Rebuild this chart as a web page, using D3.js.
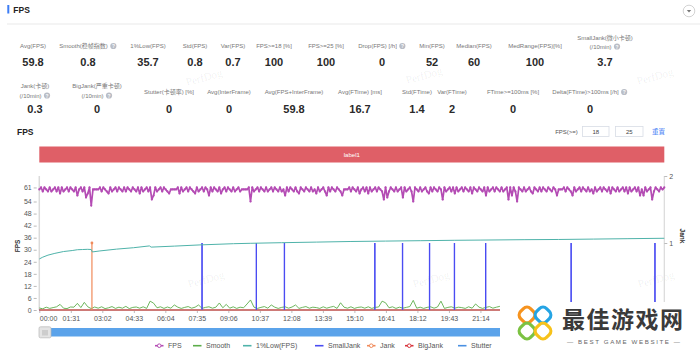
<!DOCTYPE html>
<html>
<head>
<meta charset="utf-8">
<script src="https://cdn.jsdelivr.net/npm/d3@7"></script>
<style>
  body { margin: 0; background: #fff; }
  svg text { font-family: "Liberation Sans", Arial, "Noto Sans CJK SC", sans-serif; }
</style>
</head>
<body>
<div id="wrapper"></div>
<script>
// ---- data ----
const statLabelsTop = ["Avg(FPS)", "Smooth(稳帧指数)", "1%Low(FPS)", "Std(FPS)", "Var(FPS)", "FPS>=18 [%]", "FPS>=25 [%]",
  "Drop(FPS) [/h]", "Min(FPS)", "Median(FPS)", "MedRange(FPS)[%]", "SmallJank(微小卡顿)|(/10min)"];
const statValuesTop = ["59.8", "0.8", "35.7", "0.8", "0.7", "100", "100", "0", "52", "60", "100", "3.7"];
const statHelpTop = [false, true, false, false, false, false, false, true, false, false, false, true];

const statLabelsBottom = ["Jank(卡顿)|(/10min)", "BigJank(严重卡顿)|(/10min)", "Stutter(卡顿率) [%]", "Avg(InterFrame)",
  "Avg(FPS+InterFrame)", "Avg(FTime) [ms]", "Std(FTime)", "Var(FTime)", "FTime>=100ms [%]", "Delta(FTime)>100ms [/h]"];
const statValuesBottom = ["0.3", "0", "0", "0", "59.8", "16.7", "1.4", "2", "0", "0"];
const statHelpBottom = [true, true, false, false, false, false, false, false, false, true];

const FPS_STEP = 5; // seconds between FPS samples
const fpsValues = [
  60,61,59,61,60,59,61,59,60,61,59,61,58,61,59,60,61,59,61,60,
  59,61,57,60,61,59,61,56,58,61,52,60,60,60,60,61,59,61,60,59,
  58,61,59,60,61,59,61,60,59,61,59,61,60,59,61,60,59,61,58,61,
  59,60,61,59,61,55,57,61,59,60,61,59,61,60,59,58,60,60,60,60,
  61,58,61,59,60,61,59,61,60,59,58,61,59,60,61,59,61,60,57,61,
  59,61,60,59,61,58,60,61,59,61,60,59,61,59,60,61,59,60,60,60,
  60,61,54,61,59,60,61,59,61,60,59,61,59,60,61,59,61,60,59,61,
  59,60,57,61,59,61,60,59,61,59,58,61,60,59,61,60,59,61,59,60,
  58,61,59,60,61,59,57,61,59,61,60,59,61,60,59,57,60,60,60,61,
  59,61,60,59,61,58,60,61,59,61,58,61,59,60,61,59,61,60,59,55,
  61,56,59,61,60,59,61,59,60,61,56,61,59,60,61,59,54,61,60,59,
  61,59,60,61,59,58,61,59,61,60,59,61,60,55,61,59,60,61,59,61,
  58,61,59,60,61,59,61,60,59,61,58,61,60,59,61,60,59,61,57,61,
  59,60,61,59,61,60,59,61,59,60,61,55,61,57,61,59,54,61,60,59,
  61,59,60,61,59,58,61,60,59,61,59,61,60,59,61,60,59,61,60,57,
  60,60,60,61,59,61,60,59,57,61,59,60,61,59,61,60,59,61,59,60,
  58,61,59,60,61,59,61,60,59,61,58,61,60,59,61,59,60,61,59,61,
  58,61,59,60,61,59,61,57,60,57,61,59,60,61,55,59,61,60,59,61,
  60,61
];

const SMOOTH_STEP = 10; // seconds between Smooth samples
const smoothValues = [
  1,0.6,1.4,0.8,1.2,1.6,2.8,0.9,0.7,1.5,1.4,3.3,1.2,3.8,1.6,0.7,1.5,0.9,1.6,0.7,
  1.1,1.7,0.8,1.4,0.9,1.8,0.7,1.3,1.5,0.9,1.6,0.8,4.4,3.4,1.1,1.6,0.8,1.5,0.9,2.5,
  1.4,0.8,1.3,1.7,0.9,1.4,2.5,0.8,1.3,1.6,0.9,1.4,3.5,1.1,2.8,0.9,1.6,0.8,1.4,1.1,
  3,5,1.4,0.8,1.3,1.7,0.9,2.5,1.4,0.8,1.3,1.6,0.9,1.5,2.5,0.8,1.3,1.7,0.9,1.4,
  1.2,0.8,1.6,0.9,1.4,1.8,0.8,3.6,1.4,0.9,1.6,0.8,1.3,1.5,0.9,1.6,0.8,1.3,1.5,4.4,
  3.6,1.1,1.6,0.8,1.4,0.9,1.3,1.7,4.8,0.9,1.4,0.8,1.3,1.6,0.9,1.5,4.4,0.8,1.3,1.6,
  0.9,1.4,1.2,0.8,1.6,0.9,3,1.4,0.8,1.3,1.7,0.9,1.4,1.8,0.9,1.2,1.8,1.5,0.8,1.4,
  0.9,1.3,1.6,0.8,1.4,0.9,2.6,1.2,1.6,0.8,1.4,0.9,1.3,3.2,0.8,1.4,0.9,1.6,1.2,0.8,
  1.4,0.9,1.6,1.2,0.8,1.4,0.9,2.8,1.2,1.6,0.8,1.4,0.9,1.3,3.5,0.8,1.4,0.9,1.6,1.2,1
];

const lowTimes = [0, 10, 25, 45, 70, 95, 110, 125, 140, 150, 153, 175, 223, 272, 318, 323, 390, 464, 561, 609,
  700, 800, 900, 1000, 1100, 1200, 1273, 1400, 1500, 1600, 1700, 1805];
const lowValues = [25.4, 26.3, 27.3, 28.2, 29.1, 29.6, 30.0, 30.1, 30.2, 30.1, 28.9, 29.4, 30.3, 31.0, 31.9, 31.3, 31.8, 32.4, 33.0, 33.2,
  33.5, 33.8, 34.1, 34.3, 34.5, 34.7, 34.8, 35.0, 35.1, 35.3, 35.5, 35.7];

const smallJankTimes = [470, 627, 708, 969, 1049, 1127, 1199, 1289, 1536, 1778];
const jankTimes = [152];
const bigJankTimes = [];
const stutterTimes = [];

const DURATION = 1805;
// labels to the right of 21:14 (and the right-hand 0) are covered by the site logo in the picture
const xTickLabels = ["00:00", "01:31", "03:02", "04:33", "06:04", "07:35", "09:06", "10:37", "12:08", "13:39",
  "15:10", "16:41", "18:12", "19:43", "21:14"];
const yLeftTicks = [0, 6, 12, 18, 24, 30, 36, 42, 48, 54, 61];
const yRightTicks = [1, 2];

const legendNames = ["FPS", "Smooth", "1%Low(FPS)", "SmallJank", "Jank", "BigJank", "Stutter"];
const legendColors = ["#b44cb4", "#5cad4a", "#4fb3aa", "#4a4cf2", "#f08a5a", "#d8343c", "#4a90e2"];
const legendMarker = [true, false, false, false, true, true, false];

// ---- layout ----
const width = 700, height = 352;
const plot = { left: 39.3, right: 664.3, top: 176, bottom: 310 };
const colTop = [33, 88, 148, 195, 233, 274, 326, 382, 432, 474, 535, 605];
const colBottom = [35, 97, 169, 229, 294, 360, 417, 452, 513, 590];
const legendX = [155, 193, 243, 315, 367, 405, 458];

const svg = d3.select("#wrapper").append("svg")
  .attr("width", width)
  .attr("height", height);

// header
svg.append("rect").attr("x", 7.3).attr("y", 5).attr("width", 2).attr("height", 8.5).attr("fill", "#3d7df5");
svg.append("text").attr("x", 13.3).attr("y", 13).attr("font-size", 8.5).attr("font-weight", "bold")
  .attr("fill", "#222").text("FPS");
svg.append("line").attr("x1", 7).attr("x2", 700).attr("y1", 24).attr("y2", 24)
  .attr("stroke", "#f0f0f0").attr("stroke-width", 1.5);
svg.append("circle").attr("cx", 689).attr("cy", 11).attr("r", 5.8)
  .attr("fill", "#fff").attr("stroke", "#c8c8c8").attr("stroke-width", 0.8);
svg.append("path").attr("d", "M686.8,10 L691.2,10 L689,12.5 Z").attr("fill", "#777");

// stats blocks
function drawStat(labels, values, help, cols, lineYs, singleY, valueY) {
  labels.forEach((lab, i) => {
    const cx = cols[i];
    const lines = lab.split("|");
    const ys = lines.length === 2 ? lineYs : [singleY];
    lines.forEach((ln, j) => {
      const last = j === lines.length - 1;
      const t = svg.append("text").attr("y", ys[j]).attr("font-size", 6).attr("fill", "#777").text(ln);
      const w = t.node().getComputedTextLength();
      const extra = (last && help[i]) ? 9 : 0;
      const x0 = cx - (w + extra) / 2;
      t.attr("x", x0);
      if (extra) {
        svg.append("circle").attr("cx", x0 + w + 5.5).attr("cy", ys[j] - 2).attr("r", 3.1).attr("fill", "#b9bdc6");
        svg.append("text").attr("x", x0 + w + 5.5).attr("y", ys[j]).attr("text-anchor", "middle")
          .attr("font-size", 4.8).attr("font-weight", "bold").attr("fill", "#fff").text("?");
      }
    });
    svg.append("text").attr("x", cx).attr("y", valueY).attr("text-anchor", "middle")
      .attr("font-size", 11).attr("font-weight", "bold").attr("fill", "#2a2a2a").text(values[i]);
  });
}
drawStat(statLabelsTop, statValuesTop, statHelpTop, colTop, [39.5, 48.5], 48, 66);
drawStat(statLabelsBottom, statValuesBottom, statHelpBottom, colBottom, [88, 97.5], 94, 113);

// faint watermarks
[[205, 81], [425, 79], [656, 80], [207, 283], [432, 283], [657, 283]].forEach(([x, y]) => {
  svg.append("text").attr("transform", `translate(${x},${y}) rotate(-15)`)
    .attr("text-anchor", "middle").attr("font-size", 11)
    .style("font-family", "'Liberation Serif', 'DejaVu Serif', serif")
    .attr("fill", "rgba(0,0,0,0.07)").text("PerfDog");
});

// chart title and threshold inputs
svg.append("text").attr("x", 17).attr("y", 135).attr("font-size", 8.5).attr("font-weight", "bold")
  .attr("fill", "#222").text("FPS");
svg.append("text").attr("x", 566.5).attr("y", 133.5).attr("text-anchor", "middle")
  .attr("font-size", 6).attr("fill", "#555").text("FPS(>=)");
[["18", 582.5, 26.5], ["25", 615.5, 27.5]].forEach(([v, x, w]) => {
  svg.append("rect").attr("x", x).attr("y", 126.5).attr("width", w).attr("height", 10)
    .attr("fill", "#fff").attr("stroke", "#d8dce5").attr("stroke-width", 0.8);
  svg.append("text").attr("x", x + w / 2).attr("y", 133.7).attr("text-anchor", "middle")
    .attr("font-size", 6).attr("fill", "#444").text(v);
});
svg.append("text").attr("x", 658.5).attr("y", 134).attr("text-anchor", "middle")
  .attr("font-size", 6.5).attr("fill", "#4a7ff5").text("重置");

// label bar
svg.append("rect").attr("x", plot.left).attr("y", 146.5).attr("width", plot.right - plot.left).attr("height", 16)
  .attr("fill", "#df5f67");
svg.append("text").attr("x", (plot.left + plot.right) / 2).attr("y", 156.7).attr("text-anchor", "middle")
  .attr("font-size", 6).attr("fill", "#fff").text("label1");

// scales
const xScale = d3.scaleLinear().domain([0, DURATION]).range([plot.left, plot.right]);
const yLeft = d3.scaleLinear().domain([0, 66.7]).range([plot.bottom, plot.top]);
const yRight = d3.scaleLinear().domain([0, 2]).range([plot.bottom, plot.top]);
const toSeconds = s => { const [m, sec] = s.split(":").map(Number); return m * 60 + sec; };

// axes
svg.append("line").attr("x1", plot.left).attr("x2", plot.left).attr("y1", plot.top).attr("y2", plot.bottom)
  .attr("stroke", "#dadada").attr("stroke-width", 1.5);
svg.append("line").attr("x1", plot.right).attr("x2", plot.right).attr("y1", plot.top).attr("y2", plot.bottom)
  .attr("stroke", "#dadada").attr("stroke-width", 1.2);
svg.append("line").attr("x1", plot.left).attr("x2", plot.right).attr("y1", plot.bottom).attr("y2", plot.bottom)
  .attr("stroke", "#cfcfcf").attr("stroke-width", 1);

function styleAxis(g, anchor) {
  g.select(".domain").remove();
  g.selectAll(".tick line").attr("stroke", "#bbb");
  g.selectAll(".tick text").attr("font-size", 7).attr("fill", "#555")
    .style("font-family", "'Liberation Sans', Arial, sans-serif");
  if (anchor) g.selectAll(".tick text").attr("text-anchor", anchor);
}

const yLeftAxis = svg.append("g").attr("transform", `translate(${plot.left - 2.6},0)`)
  .call(d3.axisLeft(yLeft).tickValues(yLeftTicks).tickSize(3).tickPadding(2));
styleAxis(yLeftAxis);

const yRightAxis = svg.append("g").attr("transform", `translate(${plot.right},0)`)
  .call(d3.axisRight(yRight).tickValues(yRightTicks).tickSize(3).tickPadding(2).tickFormat(d3.format("d")));
styleAxis(yRightAxis);

const xAxis = svg.append("g").attr("transform", `translate(0,${plot.bottom})`)
  .call(d3.axisBottom(xScale).tickValues(xTickLabels.map(toSeconds)).tickSize(3).tickPadding(3)
    .tickFormat((d, i) => xTickLabels[i]));
styleAxis(xAxis);
xAxis.selectAll(".tick").filter(d => d === 0).select("text").attr("text-anchor", "start");

svg.append("text").attr("transform", `translate(20,246) rotate(-90)`).attr("text-anchor", "middle")
  .attr("font-size", 6.5).attr("font-weight", "bold").attr("fill", "#333").text("FPS");
svg.append("text").attr("transform", `translate(680,236) rotate(90)`).attr("text-anchor", "middle")
  .attr("font-size", 6.5).attr("font-weight", "bold").attr("fill", "#333").text("Jank");

// series
const chart = svg.append("g");

// zero-level event series (drawn under everything else)
function drawEvents(times, color, marker) {
  chart.append("line").attr("x1", plot.left).attr("x2", plot.right)
    .attr("y1", yRight(0)).attr("y2", yRight(0)).attr("stroke", color).attr("stroke-width", 1.3);
  times.forEach(t => {
    chart.append("line").attr("x1", xScale(t)).attr("x2", xScale(t))
      .attr("y1", yRight(0)).attr("y2", yRight(1)).attr("stroke", color).attr("stroke-width", 1.2);
    if (marker) {
      chart.append("circle").attr("cx", xScale(t)).attr("cy", yRight(1)).attr("r", 1.4).attr("fill", color);
    }
  });
}
drawEvents(stutterTimes, legendColors[6], false);
drawEvents(bigJankTimes, legendColors[5], true);
drawEvents(smallJankTimes, legendColors[3], false);

const smoothLine = d3.line()
  .x((d, i) => xScale(i * SMOOTH_STEP))
  .y(d => yLeft(d));
chart.append("path").datum(smoothValues).attr("d", smoothLine)
  .attr("fill", "none").attr("stroke", legendColors[1]).attr("stroke-width", 0.9);

drawEvents(jankTimes, legendColors[4], true);
// keep the small jank spikes on top of the orange base line
smallJankTimes.forEach(t => {
  chart.append("line").attr("x1", xScale(t)).attr("x2", xScale(t))
    .attr("y1", yRight(0)).attr("y2", yRight(1)).attr("stroke", legendColors[3]).attr("stroke-width", 1.2);
});

const lowLine = d3.line()
  .x((d, i) => xScale(lowTimes[i]))
  .y(d => yLeft(d));
chart.append("path").datum(lowValues).attr("d", lowLine)
  .attr("fill", "none").attr("stroke", legendColors[2]).attr("stroke-width", 1);

const fpsLine = d3.line()
  .x((d, i) => xScale(i * FPS_STEP))
  .y(d => yLeft(d));
chart.append("path").datum(fpsValues).attr("d", fpsLine)
  .attr("fill", "none").attr("stroke", legendColors[0]).attr("stroke-width", 1.7)
  .attr("stroke-linejoin", "round");
chart.selectAll(".fps-dot").data(fpsValues).join("circle")
  .attr("class", "fps-dot")
  .attr("cx", (d, i) => xScale(i * FPS_STEP))
  .attr("cy", d => yLeft(d))
  .attr("r", 1.1)
  .attr("fill", legendColors[0]);

// slider (data zoom)
svg.append("rect").attr("x", plot.left + 1).attr("y", 328).attr("width", plot.right - plot.left - 1).attr("height", 8.5)
  .attr("fill", "#5ba3ea");
svg.append("rect").attr("x", 39).attr("y", 326.8).attr("width", 12).attr("height", 11).attr("rx", 1.5)
  .attr("fill", "#e4e4e4").attr("stroke", "#b8b8b8").attr("stroke-width", 0.7);
[43, 45, 47].forEach(x => {
  svg.append("line").attr("x1", x).attr("x2", x).attr("y1", 330).attr("y2", 335.5)
    .attr("stroke", "#999").attr("stroke-width", 0.6);
});

// legend
const legend = svg.append("g");
legendNames.forEach((name, i) => {
  const x = legendX[i], y = 345.7;
  legend.append("line").attr("x1", x).attr("x2", x + 8.5).attr("y1", y).attr("y2", y)
    .attr("stroke", legendColors[i]).attr("stroke-width", 1.6);
  if (legendMarker[i]) {
    legend.append("circle").attr("cx", x + 4.25).attr("cy", y).attr("r", 1.8)
      .attr("fill", "#fff").attr("stroke", legendColors[i]).attr("stroke-width", 1);
  }
  legend.append("text").attr("x", x + 13).attr("y", y + 2.4).attr("font-size", 7).attr("fill", "#555").text(name);
});

// site watermark logo at the bottom right
const logo = svg.append("g");
logo.append("rect").attr("x", 500).attr("y", 302).attr("width", 200).attr("height", 50).attr("fill", "#fff");
[[527, 315, "#f6931e"], [543, 315, "#25a4e4"], [527, 331, "#7cc242"], [543, 331, "#f7c21a"]].forEach(([cx, cy, c]) => {
  logo.append("rect").attr("x", -7).attr("y", -7).attr("width", 14).attr("height", 14).attr("rx", 5)
    .attr("transform", `translate(${cx},${cy}) rotate(45)`)
    .attr("fill", "none").attr("stroke", c).attr("stroke-width", 3.2);
});
logo.append("text").attr("x", 562).attr("y", 328).attr("font-size", 23).attr("font-weight", "bold")
  .style("font-family", "'Noto Sans CJK SC', sans-serif")
  .attr("textLength", 121).attr("fill", "#3a3a3a").text("最佳游戏网");
logo.append("text").attr("x", 567).attr("y", 344).attr("font-size", 6.2)
  .attr("textLength", 113).attr("fill", "#666").text("— BEST GAME WEBSITE —");
</script>
</body>
</html>
